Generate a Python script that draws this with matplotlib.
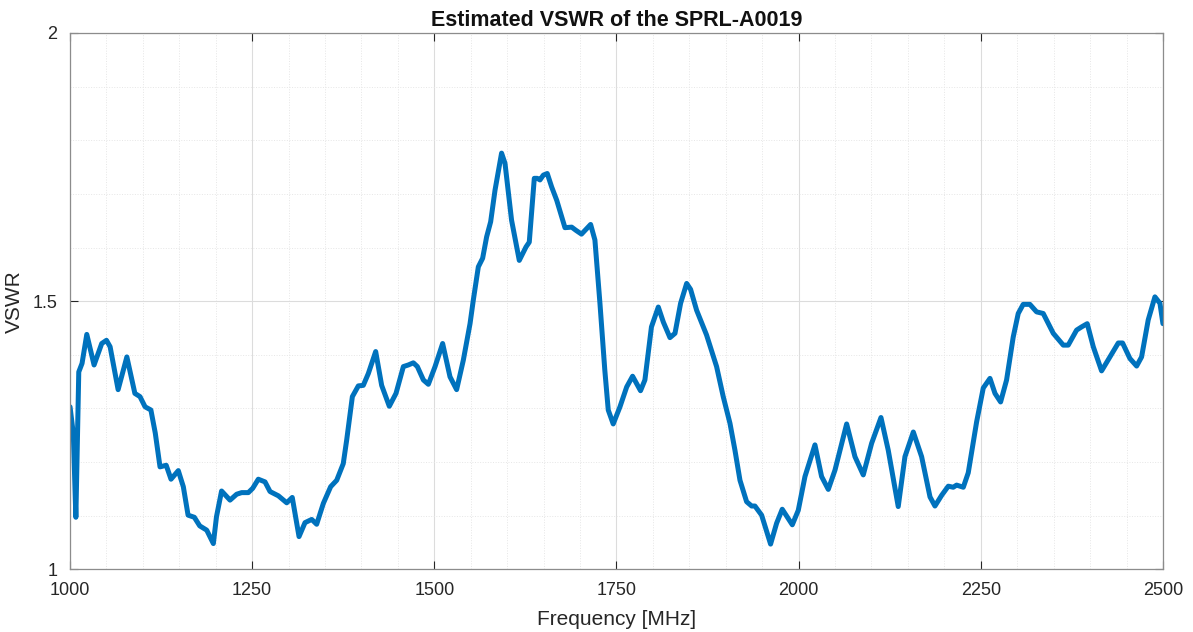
import numpy as np
import matplotlib.pyplot as plt
from matplotlib.ticker import MultipleLocator

# Values (frequency in MHz, VSWR)
freq = [1000, 1004.5, 1008, 1012, 1016.5, 1023, 1033, 1043.5, 1050, 1055,
        1066, 1078, 1089, 1096, 1103, 1111, 1117, 1123.5, 1132, 1138.6,
        1148.6, 1155.5, 1162, 1170.6, 1178, 1187.6, 1196.7, 1201, 1208, 1219.6,
        1228.7, 1235.6, 1244.7, 1250.7, 1258.4, 1267.6, 1274.5, 1286, 1297.4, 1305,
        1314.3, 1322.5, 1331.7, 1338.5, 1347.7, 1357.7, 1366, 1375, 1379.7, 1387.5,
        1395.7, 1402.5, 1409.4, 1419.5, 1427.7, 1438.2, 1447.4, 1457.5, 1464.3, 1471.2,
        1476.7, 1485, 1491.8, 1501, 1511.4, 1521.5, 1530.6, 1539.8, 1549, 1553.5,
        1560.4, 1566.3, 1571.8, 1577.3, 1583.3, 1592.3, 1597, 1606, 1616.6, 1625.8,
        1630.3, 1637.2, 1641.3, 1645, 1649.6, 1655, 1661, 1668, 1679.3, 1688.5,
        1694.4, 1702, 1714.5, 1720.4, 1727.3, 1734, 1738.7, 1745.5, 1754.8, 1764,
        1772.1, 1783, 1789, 1798, 1807.4, 1814.3, 1823.4, 1830.3, 1838, 1846.3,
        1851.7, 1860, 1873.6, 1887.4, 1896.5, 1905.8, 1912.6, 1919.5, 1928.6, 1935.5,
        1940, 1949.2, 1961.5, 1969.8, 1977.5, 1991.3, 1999.5, 2008.7, 2022.4, 2031.5,
        2040.7, 2049.9, 2065.9, 2077.3, 2088.7, 2100.2, 2113, 2123, 2136.7, 2145.9,
        2157.4, 2168.8, 2180.3, 2187.1, 2196.3, 2205.4, 2212.2, 2216.8, 2226, 2232.8,
        2244.3, 2253.4, 2262.6, 2269.5, 2277.2, 2285.4, 2294.5, 2301.4, 2308.2, 2317.4,
        2326.6, 2335.7, 2349.5, 2363.2, 2370, 2381.5, 2388.4, 2396.1, 2404.4, 2415.8,
        2427.3, 2438.7, 2444.6, 2454.7, 2463.9, 2470.7, 2479.8, 2489, 2495.9, 2500]
vswr = [1.303, 1.253, 1.097, 1.368, 1.384, 1.438, 1.381, 1.421, 1.427, 1.415,
        1.335, 1.396, 1.328, 1.322, 1.303, 1.297, 1.254, 1.191, 1.194, 1.168,
        1.184, 1.154, 1.101, 1.097, 1.081, 1.073, 1.048, 1.098, 1.146, 1.129,
        1.140, 1.143, 1.143, 1.151, 1.168, 1.163, 1.145, 1.137, 1.124, 1.134,
        1.061, 1.087, 1.093, 1.084, 1.123, 1.154, 1.166, 1.197, 1.241, 1.322,
        1.342, 1.343, 1.365, 1.406, 1.343, 1.304, 1.328, 1.378, 1.381, 1.385,
        1.378, 1.353, 1.345, 1.378, 1.421, 1.359, 1.335, 1.390, 1.458, 1.502,
        1.564, 1.580, 1.620, 1.648, 1.707, 1.776, 1.757, 1.651, 1.576, 1.601,
        1.610, 1.729, 1.729, 1.726, 1.735, 1.738, 1.713, 1.688, 1.637, 1.638,
        1.632, 1.625, 1.643, 1.614, 1.496, 1.371, 1.297, 1.271, 1.303, 1.340,
        1.360, 1.333, 1.353, 1.452, 1.489, 1.461, 1.432, 1.440, 1.496, 1.533,
        1.522, 1.483, 1.437, 1.378, 1.322, 1.272, 1.222, 1.166, 1.126, 1.118,
        1.118, 1.101, 1.047, 1.086, 1.112, 1.083, 1.110, 1.173, 1.232, 1.173,
        1.149, 1.185, 1.271, 1.210, 1.176, 1.235, 1.283, 1.222, 1.117, 1.210,
        1.256, 1.210, 1.135, 1.118, 1.138, 1.155, 1.153, 1.157, 1.153, 1.180,
        1.275, 1.338, 1.356, 1.328, 1.312, 1.353, 1.433, 1.477, 1.494, 1.494,
        1.480, 1.477, 1.440, 1.418, 1.418, 1.446, 1.452, 1.458, 1.415, 1.370,
        1.396, 1.422, 1.422, 1.393, 1.379, 1.396, 1.465, 1.508, 1.496, 1.458]

xticks = [1000, 1250, 1500, 1750, 2000, 2250, 2500]
yticks = [1, 1.5, 2]
ytick_labels = ['1', '1.5', '2']

plt.rcParams['font.family'] = ['Liberation Sans', 'DejaVu Sans']

fig = plt.figure(figsize=(11.93, 6.32), dpi=100)
ax = fig.add_axes([0.0587, 0.0992, 0.9161, 0.8486])

ax.plot(freq, vswr, color='#0072BD', linewidth=3.6,
        solid_joinstyle='round', solid_capstyle='round')

ax.set_xlim(1000, 2500)
ax.set_ylim(1, 2)
ax.set_xticks(xticks)
ax.set_yticks(yticks)
ax.set_yticklabels(ytick_labels)
ax.xaxis.set_minor_locator(MultipleLocator(50))
ax.yaxis.set_minor_locator(MultipleLocator(0.1))

ax.grid(which='major', color='#dcdcdc', linewidth=0.8)
ax.grid(which='minor', color='#e6e6e6', linewidth=0.7, linestyle=':')
ax.set_axisbelow(True)

ax.tick_params(which='major', direction='in', length=6, top=True, right=True,
               labelsize=13, colors='#262626')
ax.tick_params(axis='x', which='major', pad=9)
ax.tick_params(axis='y', which='major', pad=9)
ax.tick_params(which='minor', length=0)
for s in ax.spines.values():
    s.set_color('#8c8c8c')
    s.set_linewidth(0.9)

ax.set_xlabel('Frequency [MHz]', fontsize=15, color='#262626', labelpad=8)
ax.set_ylabel('VSWR', fontsize=15, color='#262626', labelpad=6)
ax.set_title('Estimated VSWR of the SPRL-A0019', fontsize=15.5,
             fontweight='bold', color='#111111', pad=5)

fig.savefig('out.png', dpi=100)
